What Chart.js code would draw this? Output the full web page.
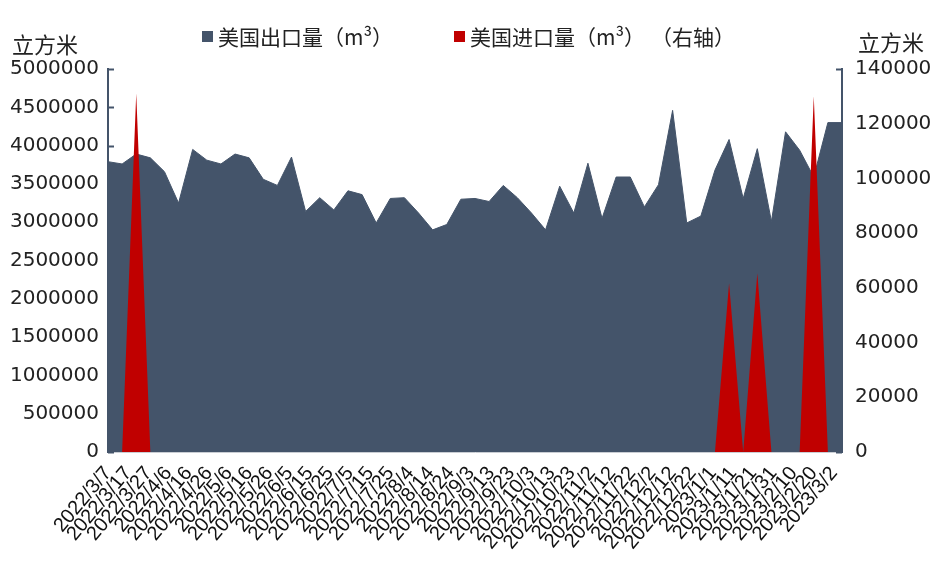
<!DOCTYPE html>
<html>
<head>
<meta charset="utf-8">
<script src="https://cdn.jsdelivr.net/npm/chart.js@4.4.1/dist/chart.umd.min.js"></script>
<style>
  html, body { margin: 0; padding: 0; background: #fff; }
  #wrap { width: 940px; height: 577px; }
</style>
</head>
<body>
<div id="wrap"><canvas id="chart" width="940" height="577"></canvas></div>
<script>
// weekly dates of the data
const dates = [
    '2022/3/7', '2022/3/14', '2022/3/21', '2022/3/28', '2022/4/4', '2022/4/11', '2022/4/18', '2022/4/25',
    '2022/5/2', '2022/5/9', '2022/5/16', '2022/5/23', '2022/5/30', '2022/6/6', '2022/6/13', '2022/6/20',
    '2022/6/27', '2022/7/4', '2022/7/11', '2022/7/18', '2022/7/25', '2022/8/1', '2022/8/8', '2022/8/15',
    '2022/8/22', '2022/8/29', '2022/9/5', '2022/9/12', '2022/9/19', '2022/9/26', '2022/10/3', '2022/10/10',
    '2022/10/17', '2022/10/24', '2022/10/31', '2022/11/7', '2022/11/14', '2022/11/21', '2022/11/28', '2022/12/5',
    '2022/12/12', '2022/12/19', '2022/12/26', '2023/1/2', '2023/1/9', '2023/1/16', '2023/1/23', '2023/1/30',
    '2023/2/6', '2023/2/13', '2023/2/20', '2023/2/27', '2023/3/6'
];

// 美国出口量 (left axis)
const exportsUS = [
    3790000, 3760000, 3890000, 3840000, 3660000, 3250000, 3950000, 3810000,
    3760000, 3890000, 3840000, 3560000, 3480000, 3850000, 3140000, 3320000,
    3160000, 3410000, 3360000, 2990000, 3310000, 3320000, 3120000, 2900000,
    2970000, 3300000, 3310000, 3270000, 3480000, 3320000, 3120000, 2900000,
    3470000, 3120000, 3770000, 3050000, 3590000, 3590000, 3200000, 3490000,
    4460000, 2990000, 3080000, 3680000, 4080000, 3310000, 3960000, 3010000,
    4180000, 3940000, 3590000, 4300000, 4300000
];

// 美国进口量 (right axis)
const importsUS = [
    0, 0, 131000, 0, 0, 0, 0, 0,
    0, 0, 0, 0, 0, 0, 0, 0,
    0, 0, 0, 0, 0, 0, 0, 0,
    0, 0, 0, 0, 0, 0, 0, 0,
    0, 0, 0, 0, 0, 0, 0, 0,
    0, 0, 0, 0, 61700, 0, 65300, 0,
    0, 0, 130000, 0, 0
];

// x axis labels, every 10 days
const xTickLabels = [
    '2022/3/7', '2022/3/17', '2022/3/27', '2022/4/6', '2022/4/16', '2022/4/26', '2022/5/6', '2022/5/16',
    '2022/5/26', '2022/6/5', '2022/6/15', '2022/6/25', '2022/7/5', '2022/7/15', '2022/7/25', '2022/8/4',
    '2022/8/14', '2022/8/24', '2022/9/3', '2022/9/13', '2022/9/23', '2022/10/3', '2022/10/13', '2022/10/23',
    '2022/11/2', '2022/11/12', '2022/11/22', '2022/12/2', '2022/12/12', '2022/12/22', '2023/1/1', '2023/1/11',
    '2023/1/21', '2023/1/31', '2023/2/10', '2023/2/20', '2023/3/2'
];

// legend text, second one drawn in two pieces so the brackets keep their full width
const seriesNames = ['美国出口量（m³）', '美国进口量（m³）（右轴）'];
const legendPieces = [['美国出口量（m³）'], ['美国进口量（m³）', '（右轴）']];
const slate = '#44546A';
const red = '#C00000';

function dayNum(s) {
    const [y, m, d] = s.split('/').map(Number);
    return (Date.UTC(y, m - 1, d) - Date.UTC(2022, 2, 7)) / 86400000;
}

const cjk = "'Noto Sans CJK SC', 'DejaVu Sans', sans-serif";
const num = "'DejaVu Sans', sans-serif";

// axis units, legend and inner tick marks
const decorations = {
    id: 'decorations',
    beforeDatasetsDraw(chart) {
        const ctx = chart.ctx;
        const {left, right} = chart.chartArea;
        ctx.save();
        ctx.strokeStyle = slate;
        ctx.lineWidth = 2;
        chart.scales.y.ticks.forEach(t => {
            const yy = Math.round(chart.scales.y.getPixelForValue(t.value)) + 0.5;
            ctx.beginPath(); ctx.moveTo(left, yy); ctx.lineTo(left + 6, yy); ctx.stroke();
        });
        chart.scales.y1.ticks.forEach(t => {
            const yy = Math.round(chart.scales.y1.getPixelForValue(t.value)) + 0.5;
            ctx.beginPath(); ctx.moveTo(right, yy); ctx.lineTo(right - 6, yy); ctx.stroke();
        });
        ctx.restore();
    },
    afterDraw(chart) {
        const ctx = chart.ctx;
        ctx.save();
        ctx.fillStyle = '#222';
        ctx.font = '22px ' + cjk;
        ctx.textBaseline = 'middle';
        ctx.textAlign = 'center';
        ctx.fillText('立方米', 45, 45);
        ctx.fillText('立方米', 891, 43);

        ctx.font = '21px ' + cjk;
        ctx.textAlign = 'left';
        const items = [[202, slate], [454, red]];
        items.forEach(([x, c], i) => {
            ctx.fillStyle = c;
            ctx.fillRect(x, 31, 11, 11);
            ctx.fillStyle = '#222';
            let tx = x + 16;
            legendPieces[i].forEach(p => {
                ctx.fillText(p, tx, 37);
                tx += ctx.measureText(p).width + 6;
            });
        });
        ctx.restore();
    }
};

const ctx = document.getElementById('chart').getContext('2d');
window.usChart = new Chart(ctx, {
    type: 'line',
    data: {
        datasets: [
            {
                label: seriesNames[0],
                data: dates.map((d, i) => ({x: dayNum(d), y: exportsUS[i]})),
                yAxisID: 'y',
                backgroundColor: slate,
                borderColor: slate,
                borderWidth: 1,
                fill: 'origin',
                pointRadius: 0,
                tension: 0,
                order: 1
            },
            {
                label: seriesNames[1],
                data: dates.map((d, i) => ({x: dayNum(d), y: importsUS[i]})),
                yAxisID: 'y1',
                backgroundColor: red,
                borderColor: 'rgba(0,0,0,0)',
                borderWidth: 1,
                fill: 'origin',
                pointRadius: 0,
                tension: 0,
                order: 0
            }
        ]
    },
    options: {
        responsive: false,
        animation: false,
        events: [],
        layout: { padding: { top: 69, left: 0, right: 0, bottom: 0 } },
        scales: {
            x: {
                type: 'linear',
                min: 0,
                max: dayNum(dates[dates.length - 1]),
                grid: { display: false, drawTicks: false },
                border: { display: true, color: '#C9CDD3', width: 1 },
                afterFit: (s) => { s.height = 125; },
                ticks: {
                    stepSize: 10,
                    includeBounds: false,
                    autoSkip: false,
                    minRotation: 50,
                    maxRotation: 50,
                    padding: 10,
                    color: '#111',
                    font: { family: "'Liberation Sans', sans-serif", size: 20 },
                    callback: (v) => xTickLabels[Math.round(v / 10)] || ''
                }
            },
            y: {
                position: 'left',
                min: 0,
                max: 5000000,
                grid: { display: false, drawTicks: false },
                border: { display: true, color: slate, width: 2 },
                afterFit: (s) => { s.width = 108; },
                ticks: {
                    stepSize: 500000,
                    padding: 9,
                    color: '#222',
                    font: { family: num, size: 20 },
                    callback: (v) => String(v)
                }
            },
            y1: {
                position: 'right',
                min: 0,
                max: 140000,
                grid: { display: false, drawTicks: false },
                border: { display: true, color: slate, width: 2 },
                afterFit: (s) => { s.width = 98; },
                ticks: {
                    stepSize: 20000,
                    padding: 13,
                    color: '#222',
                    font: { family: num, size: 20 },
                    callback: (v) => String(v)
                }
            }
        },
        plugins: {
            legend: { display: false },
            tooltip: { enabled: false }
        }
    },
    plugins: [decorations]
});
</script>
</body>
</html>
